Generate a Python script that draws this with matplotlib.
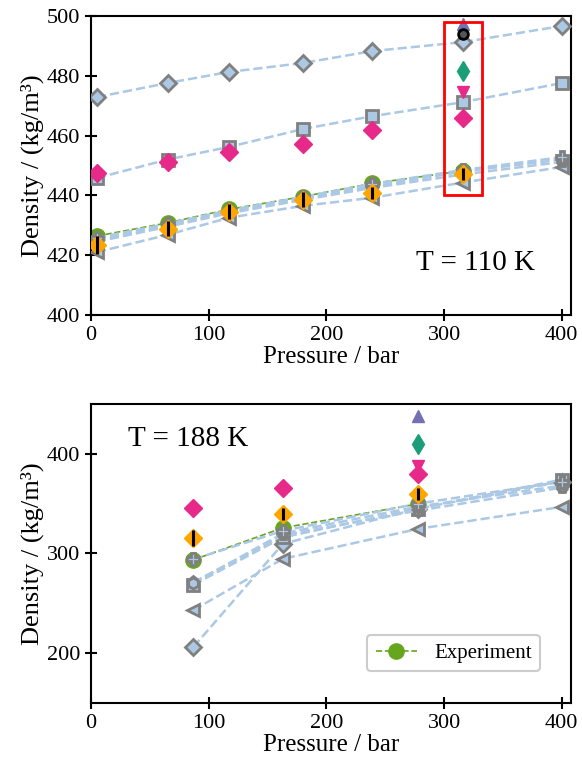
import numpy as np
import matplotlib.pyplot as plt
from matplotlib.patches import Rectangle

plt.rcParams['font.family'] = ['Liberation Serif', 'DejaVu Serif']

# T = 110 K
p_top = [5, 65, 117, 180, 239, 316, 400]
exp_top = [426.4, 430.8, 435.3, 439.6, 444.0, 448.2]
orange_top = [423.4, 428.8, 434.5, 438.5, 440.8, 447.2]
orange_err_top = [3.0, 2.5, 2.5, 2.5, 2.0, 2.0]
pink_top = [447.5, 451.2, 454.5, 457.2, 462.0, 465.8]
simD_top = [472.9, 477.6, 481.3, 484.3, 488.3, 491.3, 496.7]
sims_top = [445.8, 452.0, 456.2, 462.2, 466.5, 471.2, 477.6]
simP_top = [425.8, 430.5, 435.0, 439.5, 443.8, 448.5, 452.8]
simh_top = [425.0, 430.0, 434.5, 439.0, 443.0, 448.0, 452.0]
simp_top = [424.5, 429.5, 434.0, 438.5, 442.5, 447.0, 451.2]
simL_top = [421.0, 426.8, 432.5, 436.5, 439.2, 444.3, 449.5]
p_single_top = 316
purple_top = 497.5
black_top = 494.0
teal_top = 481.6
pinkv_top = 474.6

# T = 188 K
p_bot = [87, 163, 278, 400]
exp_bot = [293.5, 325.6, 349.7]
orange_bot = [315.6, 339.7, 359.8]
orange_err_bot = [8.0, 6.0, 6.0]
pink_bot = [345.7, 365.8, 380.0]
simD_bot = [206.0, 309.5, 345.0, 372.0]
simL_bot = [243.0, 294.5, 324.6, 346.7]
sims_bot = [268.5, 316.0, 345.0, 374.0]
simp_bot = [271.0, 318.0, 343.0, 366.0]
simh_bot = [270.0, 320.0, 347.0, 368.0]
simP_bot = [294.0, 322.6, 350.0, 372.0]
p_single_bot = 278
purple_bot = 438.2
teal_bot = 410.0
pinkv_bot = 388.0

green = '#66a61e'
orange = '#ffa500'
pink = '#e7298a'
teal = '#1b9e77'
purple = '#7570b3'
lblue = '#abc8e4'
gray = '#808080'

fig = plt.figure(figsize=(5.82, 7.68), dpi=100)
ax1 = fig.add_axes([0.1564, 0.590, 0.825, 0.389])
ax2 = fig.add_axes([0.1564, 0.085, 0.825, 0.389])


def sim(ax, x, y, m, ms=8):
    ax.plot(x, y, '--', color=lblue, lw=1.8, marker=m, ms=ms, mfc=lblue,
            mec=gray, mew=2, zorder=3)


def draw(ax, p, exp, orng, oerr, pnk, sims, ps, pur, tea, pv, blk=None):
    n = len(exp)
    ax.plot(p[:n], exp, '--', color=green, lw=1.2, marker='o', ms=11,
            mfc=green, mec=green, zorder=2, label='Experiment')
    for y, m in sims:
        sim(ax, p[:len(y)], y, m)
    ax.plot(p[:n], orng, 'D', color=orange, ms=9, zorder=5)
    o = np.array(orng)
    e = np.array(oerr)
    ax.vlines(p[:n], o - e, o + e, color='black', lw=2.2, zorder=5.5)
    ax.plot(p[:n], pnk, 'D', color=pink, ms=9, zorder=6)
    ax.plot(ps, pv, 'v', color=pink, ms=9, zorder=6)
    ax.plot(ps, tea, 'd', color=teal, ms=10, zorder=6)
    ax.plot(ps, pur, '^', color=purple, ms=9, zorder=6)
    if blk is not None:
        ax.plot(ps, blk, 'o', mfc='#555555', mec='black', mew=2, ms=7,
                zorder=7)


draw(ax1, p_top, exp_top, orange_top, orange_err_top, pink_top,
     [(simD_top, 'D'), (sims_top, 's'), (simL_top, '<'), (simp_top, 'p'),
      (simh_top, 'h'), (simP_top, 'P')],
     p_single_top, purple_top, teal_top, pinkv_top, black_top)
draw(ax2, p_bot, exp_bot, orange_bot, orange_err_bot, pink_bot,
     [(simD_bot, 'D'), (simL_bot, '<'), (sims_bot, 's'), (simp_bot, 'p'),
      (simh_bot, 'h'), (simP_bot, 'P')],
     p_single_bot, purple_bot, teal_bot, pinkv_bot)

ax1.add_patch(Rectangle((300, 440), 32, 58, fill=False, ec='red', lw=2,
                        zorder=8))

ax1.set_xlim(0, 408)
ax1.set_ylim(400, 500)
ax1.set_yticks([400, 420, 440, 460, 480, 500])
ax2.set_xlim(0, 408)
ax2.set_ylim(150, 450)
ax2.set_yticks([200, 300, 400])

ax1.text(276, 417.5, 'T = 110 K', fontsize=21, va='center')
ax2.text(31, 415, 'T = 188 K', fontsize=21, va='center')

for ax in (ax1, ax2):
    ax.set_xticks([0, 100, 200, 300, 400])
    ax.set_xlabel('Pressure / bar', fontsize=18, labelpad=1)
    ax.set_ylabel('Density / (kg/m³)', fontsize=19, labelpad=2)
    ax.tick_params(labelsize=16, direction='inout', length=9, width=1.5)
    for s in ax.spines.values():
        s.set_linewidth(1.5)

leg = ax2.legend(loc='lower right', fontsize=15, borderaxespad=1.5,
                 fancybox=True, framealpha=1, edgecolor='#cccccc')
leg.get_frame().set_linewidth(1.5)

fig.savefig('out.png', dpi=100)
